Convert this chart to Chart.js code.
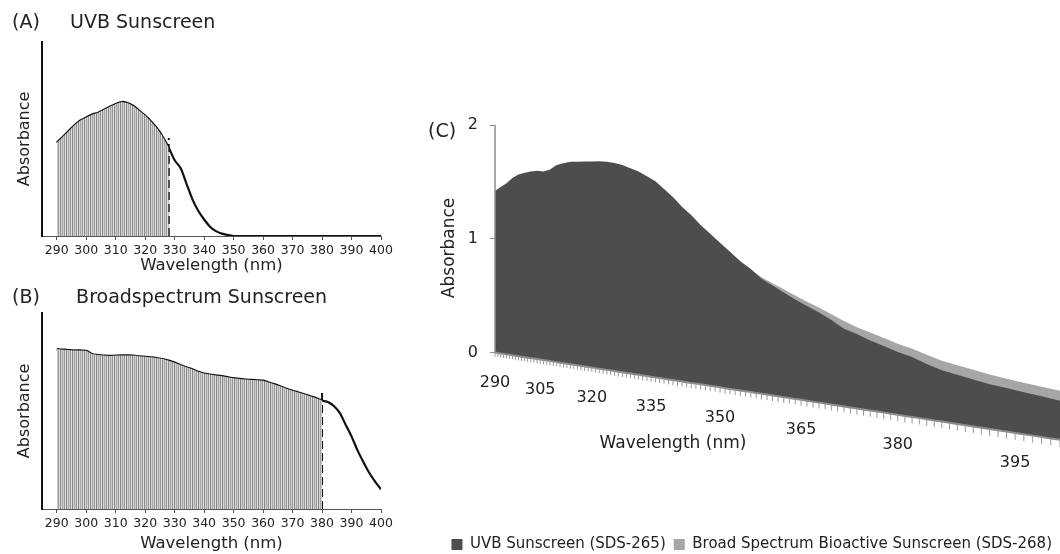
<!DOCTYPE html>
<html>
<head>
<meta charset="utf-8">
<script src="https://cdn.jsdelivr.net/npm/chart.js"></script>
<style>
  body { margin: 0; background: #fff; }
  #page { position: relative; width: 1060px; height: 554px; overflow: hidden; font-family: "DejaVu Sans", sans-serif; color: #222; }
  canvas { position: absolute; }
  #tagC { position: absolute; left: 428px; top: 119px; font-size: 19px; line-height: 22px; }
</style>
</head>
<body>
<div id="page">
  <canvas id="chartA" width="420" height="276" style="left:0;top:0"></canvas>
  <canvas id="chartB" width="420" height="278" style="left:0;top:276px"></canvas>
  <canvas id="chartC" width="635" height="462" style="left:425px;top:100px"></canvas>
  <div id="tagC">(C)</div>
</div>
<script>
// wavelength grid (nm), shared by all three panels
const wavelengths = [290, 292, 294, 296, 298, 300, 302, 304, 306, 308, 310, 312, 314, 316, 318, 320,
  322, 324, 326, 328, 330, 332, 334, 336, 338, 340, 342, 344, 346, 348, 350, 352, 354, 356, 358, 360,
  362, 364, 366, 368, 370, 372, 374, 376, 378, 380, 382, 384, 386, 388, 390, 392, 394, 396, 398, 400];
const nmTicks = [290, 300, 310, 320, 330, 340, 350, 360, 370, 380, 390, 400];

// (A) UVB sunscreen, relative absorbance
const uvbA = [0.48, 0.51, 0.54, 0.57, 0.595, 0.61, 0.625, 0.635, 0.65, 0.665, 0.68, 0.69, 0.685, 0.67,
  0.645, 0.62, 0.59, 0.555, 0.51, 0.455, 0.39, 0.35, 0.27, 0.19, 0.13, 0.085, 0.048, 0.025, 0.012, 0.005,
  0, 0, 0, 0, 0, 0, 0, 0, 0, 0, 0, 0, 0, 0, 0, 0, 0, 0, 0, 0, 0, 0, 0, 0, 0, 0];
const cutoffA = 328;
const cutoffTopA = 0.505;

// (B) broad spectrum sunscreen, relative absorbance
const broadB = [0.815, 0.812, 0.81, 0.808, 0.808, 0.806, 0.79, 0.785, 0.782, 0.78, 0.782, 0.783, 0.783,
  0.782, 0.778, 0.776, 0.773, 0.769, 0.764, 0.756, 0.746, 0.734, 0.722, 0.712, 0.70, 0.69, 0.685, 0.681,
  0.677, 0.672, 0.667, 0.663, 0.66, 0.658, 0.656, 0.654, 0.645, 0.635, 0.624, 0.613, 0.603, 0.594, 0.585,
  0.575, 0.565, 0.553, 0.545, 0.525, 0.49, 0.43, 0.37, 0.30, 0.24, 0.185, 0.14, 0.10];
const cutoffB = 380;
const cutoffTopB = 0.607;

// (C) measured absorbance
const uvbC = [1.42, 1.45, 1.48, 1.52, 1.545, 1.555, 1.56, 1.56, 1.55, 1.56, 1.59, 1.60, 1.605, 1.60, 1.595,
  1.59, 1.585, 1.575, 1.56, 1.54, 1.51, 1.48, 1.44, 1.40, 1.34, 1.28, 1.21, 1.15, 1.08, 1.02, 0.96, 0.90,
  0.84, 0.79, 0.73, 0.69, 0.65, 0.61, 0.575, 0.54, 0.50, 0.455, 0.43, 0.40, 0.375, 0.35, 0.33, 0.30, 0.275,
  0.26, 0.245, 0.23, 0.22, 0.21, 0.20, 0.19];
const broadC = [1.39, 1.42, 1.45, 1.49, 1.515, 1.525, 1.53, 1.53, 1.52, 1.53, 1.56, 1.57, 1.575, 1.57, 1.565,
  1.56, 1.555, 1.545, 1.53, 1.51, 1.48, 1.45, 1.41, 1.37, 1.31, 1.25, 1.18, 1.12, 1.05, 0.99, 0.93, 0.87,
  0.83, 0.785, 0.74, 0.705, 0.67, 0.635, 0.60, 0.57, 0.535, 0.50, 0.47, 0.445, 0.42, 0.395, 0.375, 0.35,
  0.325, 0.31, 0.295, 0.28, 0.268, 0.257, 0.247, 0.238];
const floorC = [0, 0, 0, 0, 0, 0, 0, 0, 0, 0, 0, 0, 0, 0, 0, 0, 0, 0, 0, 0, 0, 0, 0, 0, 0, 0, 0, 0,
  0, 0, 0, 0, 0, 0, 0, 0, 0, 0, 0, 0, 0, 0, 0, 0, 0, 0, 0, 0, 0, 0, 0, 0, 0, 0, 0, 0];
const cTicks = [290, 305, 320, 335, 350, 365, 380, 395];
const cYTicks = [0, 1, 2];

Chart.defaults.font.family = '"DejaVu Sans", sans-serif';
Chart.defaults.color = '#222';

// perspective of the 3D floor in panel C
const Q = 0.4484;        // foreshortening across the wavelength axis
const HORIZON = 0.943;   // level that stays horizontal
const yFloor = -1.55;    // lower end of the y range, room for the tilted floor

class PerspX extends Chart.LinearScale {
  getPixelForValue(v) {
    const u = (v - this.min) / (this.max - this.min);
    return this.left + this.width * u * (1 - Q) / (1 - Q * u);
  }
  getValueForPixel(p) {
    const r = (p - this.left) / this.width;
    return this.min + (r / (1 - Q + r * Q)) * (this.max - this.min);
  }
}
PerspX.id = 'perspX';
PerspX.defaults = {};

class PerspY extends Chart.LinearScale {
  depthAt(w) {
    const xs = this.chart.scales.x;
    return 1 / (1 - Q * (w - xs.min) / (xs.max - xs.min));
  }
  projectAt(v, w) {
    const h = super.getPixelForValue(HORIZON);
    return h + (super.getPixelForValue(v) - h) * this.depthAt(w);
  }
  getPixelForValue(v, index) {
    if (index === undefined) return super.getPixelForValue(v);
    return this.projectAt(v, this.chart.data.labels[index]);
  }
}
PerspY.id = 'perspY';
PerspY.defaults = {};
Chart.register(PerspX, PerspY);

function hatch() {
  const c = document.createElement('canvas');
  c.width = 6; c.height = 4;
  const g = c.getContext('2d');
  ['#8a8a8a', '#d2d2d2', '#a8a8a8', '#cdcdcd', '#989898', '#dedede'].forEach((col, i) => {
    g.fillStyle = col;
    g.fillRect(i, 0, 1, 4);
  });
  return g.createPattern(c, 'repeat');
}

function spectrumChart(id, title, values, cutoff, cutoffTop, titlePad, axisH) {
  const pts = wavelengths.map((w, i) => ({ x: w, y: values[i] }));
  return new Chart(document.getElementById(id), {
    type: 'line',
    data: {
      datasets: [
        { data: pts.filter(p => p.x <= cutoff), fill: 'origin', backgroundColor: hatch(),
          borderWidth: 0, pointRadius: 0 },
        { data: pts, borderColor: '#111', borderWidth: 2.2, pointRadius: 0, fill: false, tension: 0.3 },
        { data: [{ x: cutoff, y: 0 }, { x: cutoff, y: cutoffTop }], borderColor: '#111', borderWidth: 2,
          borderDash: [8, 4], pointRadius: 0, fill: false }
      ]
    },
    options: {
      responsive: false,
      animation: false,
      events: [],
      layout: { padding: { left: 12, right: 39, top: 0, bottom: 0 } },
      plugins: {
        legend: { display: false },
        tooltip: { enabled: false },
        title: { display: true, text: title, align: 'start', color: '#222',
          font: { size: 19, weight: 'normal' }, padding: titlePad }
      },
      scales: {
        x: {
          type: 'linear', min: 285, max: 400,
          afterBuildTicks: s => { s.ticks = nmTicks.map(v => ({ value: v })); },
          afterFit: s => { s.height = axisH; },
          grid: { drawOnChartArea: false, tickLength: 4, color: '#555' },
          border: { color: '#555', width: 1 },
          ticks: { font: { size: 12.5 }, padding: 3, maxRotation: 0, autoSkip: false },
          title: { display: true, text: 'Wavelength (nm)', font: { size: 16.5 }, padding: { top: 0, bottom: 0 } }
        },
        y: {
          min: 0, max: 1,
          afterFit: s => { s.width = 30; },
          grid: { display: false },
          ticks: { display: false },
          border: { color: '#111', width: 2 },
          title: { display: true, text: 'Absorbance', font: { size: 16 }, padding: { top: 3, bottom: 0 } }
        }
      }
    }
  });
}

spectrumChart('chartA', '(A)     UVB Sunscreen', uvbA, cutoffA, cutoffTopA, { top: 12, bottom: 7 }, 40);
spectrumChart('chartB', '(B)      Broadspectrum Sunscreen', broadB, cutoffB, cutoffTopB, { top: 11, bottom: 3 }, 45);

// floor, axis line, axis titles and wavelength labels of the 3D panel
const floorPlugin = {
  id: 'floor',
  afterDatasetsDraw(chart) {
    const { ctx } = chart;
    const xs = chart.scales.x, ys = chart.scales.y;
    ctx.save();
    ctx.strokeStyle = '#8c8c8c';
    ctx.lineWidth = 1.5;
    ctx.beginPath();
    ctx.moveTo(xs.left, ys.getPixelForValue(2));
    ctx.lineTo(xs.left, ys.getPixelForValue(0));
    ctx.stroke();

    ctx.lineWidth = 2;
    ctx.beginPath();
    for (let w = xs.min; w <= xs.max; w++) {
      const x = xs.getPixelForValue(w), y = ys.projectAt(0, w);
      if (w === xs.min) ctx.moveTo(x, y); else ctx.lineTo(x, y);
    }
    ctx.stroke();

    ctx.lineWidth = 1;
    ctx.strokeStyle = '#999';
    ctx.beginPath();
    for (let w = xs.min; w <= xs.max; w++) {
      const x = xs.getPixelForValue(w), y = ys.projectAt(0, w);
      ctx.moveTo(x, y);
      ctx.lineTo(x, y + 4 * ys.depthAt(w));
    }
    ctx.stroke();

    ctx.fillStyle = '#222';
    ctx.textAlign = 'center';
    ctx.textBaseline = 'middle';
    ctx.font = '16px "DejaVu Sans"';
    cTicks.forEach(w => ctx.fillText(String(w), xs.getPixelForValue(w), ys.projectAt(0, w) + 30));
    ctx.font = '17px "DejaVu Sans"';
    ctx.fillText('Wavelength (nm)', xs.getPixelForValue(340), ys.projectAt(0, 340) + 64);

    ctx.translate(ys.left + 25, ys.getPixelForValue(0.92));
    ctx.rotate(-Math.PI / 2);
    ctx.fillText('Absorbance', 0, 0);
    ctx.restore();
  }
};

new Chart(document.getElementById('chartC'), {
  type: 'line',
  data: {
    labels: wavelengths,
    datasets: [
      { label: 'UVB Sunscreen (SDS-265)', data: uvbC, fill: 2, backgroundColor: '#4d4d4d',
        borderColor: '#4d4d4d', borderWidth: 0, pointRadius: 0, tension: 0, order: 0, clip: false },
      { label: 'Broad Spectrum Bioactive Sunscreen (SDS-268)', data: broadC, fill: 2, backgroundColor: '#a6a6a6',
        borderColor: '#a6a6a6', borderWidth: 0, pointRadius: 0, tension: 0, order: 1, clip: false },
      { label: 'floor', data: floorC, fill: false, borderWidth: 0, pointRadius: 0, order: 2, clip: false }
    ]
  },
  options: {
    responsive: false,
    animation: false,
    events: [],
    layout: { padding: { left: 0, right: 0, top: 25, bottom: 0 } },
    plugins: {
      tooltip: { enabled: false },
      legend: {
        position: 'bottom', align: 'end',
        labels: { boxWidth: 11, boxHeight: 11, padding: 8, font: { size: 15 },
          filter: item => item.datasetIndex !== 2 }
      }
    },
    scales: {
      x: { type: 'perspX', min: 290, max: 400, display: false },
      y: {
        type: 'perspY', min: yFloor, max: 2,
        afterBuildTicks: s => { s.ticks = cYTicks.map(v => ({ value: v })); },
        afterFit: s => { s.width = 70; },
        grid: { drawOnChartArea: false, tickLength: 5, color: '#8c8c8c' },
        border: { display: false },
        ticks: { font: { size: 16 }, padding: 12 }
      }
    }
  },
  plugins: [floorPlugin]
});
</script>
</body>
</html>
